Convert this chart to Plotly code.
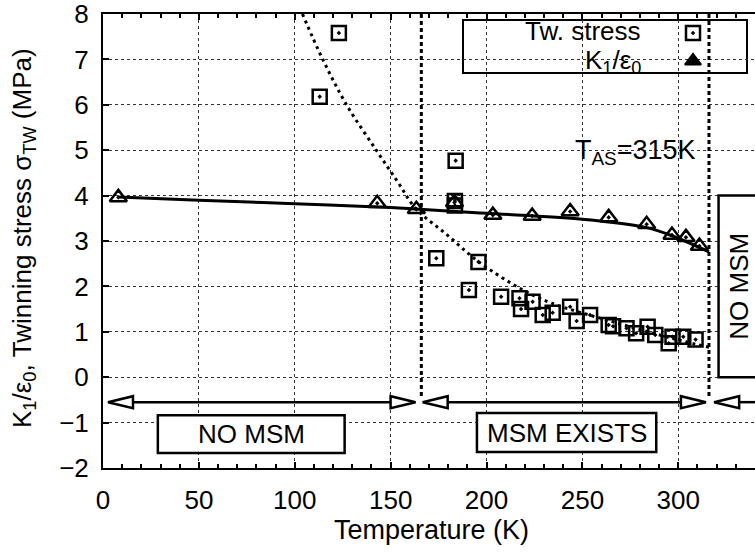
import plotly.graph_objects as go

# ---------------- data ----------------
tw_T = [113, 123, 173.8, 183.5, 183.5, 183.9, 190.8, 195.8, 207.6, 217.2, 218, 224,
        229.3, 234.5, 243.6, 247, 254, 263.7, 266, 273, 278, 284, 288, 295, 297, 302.6, 309]
tw_stress = [6.18, 7.58, 2.62, 3.88, 3.78, 4.77, 1.92, 2.54, 1.77, 1.74, 1.50, 1.66,
             1.37, 1.42, 1.55, 1.24, 1.37, 1.15, 1.12, 1.08, 0.97, 1.11, 0.93, 0.75, 0.89, 0.89, 0.83]

k_T = [8, 143, 163.4, 183.3, 203.3, 223.8, 243.6, 263.7, 283.5, 296.7, 304, 311]
k_val = [3.96, 3.83, 3.70, 3.85, 3.57, 3.55, 3.65, 3.52, 3.37, 3.13, 3.08, 2.89]

fit_T = [8, 50, 100, 150, 165, 200, 250, 283, 297, 316]
fit_val = [3.97, 3.90, 3.82, 3.74, 3.70, 3.61, 3.48, 3.30, 3.11, 2.76]

dot_T = [104, 114.6, 127, 142.5, 153.7, 163, 179, 196, 219, 234, 266, 300, 316]
dot_val = [8.0, 7.0, 6.0, 5.0, 4.3, 3.72, 3.15, 2.54, 1.92, 1.63, 1.22, 0.82, 0.66]

x_ticks = [0, 50, 100, 150, 200, 250, 300]
y_ticks = [-2, -1, 0, 1, 2, 3, 4, 5, 6, 7, 8]

boundary_T = [166, 316]          # dashed vertical lines
boundary_bottom = -0.47
arrow_y = -0.55
arrow_segments = [(2.6, 163, True, True), (166.7, 314.4, True, True), (318.7, 345, True, False)]

# ---------------- layout helpers ----------------
X_RANGE = [0, 340]
Y_RANGE = [-2, 8]
L, R, T, B = 103, 0, 14, 86
W, H = 755, 554
pw, ph = W - L - R, H - T - B
px_per_K = pw / (X_RANGE[1] - X_RANGE[0])
px_per_u = ph / (Y_RANGE[1] - Y_RANGE[0])

def px(xpix):
    return (xpix - L) / pw

def py(ypix):
    return (H - B - ypix) / ph

FONT = "Liberation Sans, Arial, Helvetica, sans-serif"

fig = go.Figure()

# dotted curve
fig.add_trace(go.Scatter(x=dot_T, y=dot_val, mode="lines",
                         line=dict(color="black", width=3, dash="3px,4px", shape="spline"),
                         hoverinfo="skip"))
# solid fit curve
fig.add_trace(go.Scatter(x=fit_T, y=fit_val, mode="lines",
                         line=dict(color="black", width=3, shape="spline"),
                         hoverinfo="skip"))
# twinning stress squares
fig.add_trace(go.Scatter(x=tw_T, y=tw_stress, mode="markers", name="Tw. stress",
                         marker=dict(symbol="square-open-dot", size=14, color="black",
                                     line=dict(width=2.5, color="black"))))
# K1/eps0 triangles
fig.add_trace(go.Scatter(x=k_T, y=k_val, mode="markers", name="K1/e0",
                         marker=dict(symbol="triangle-up-open-dot", size=15, color="black",
                                     line=dict(width=2.5, color="black"))))

shapes = []
# dashed boundary lines
for bT in boundary_T:
    shapes.append(dict(type="line", xref="x", yref="y", x0=bT, x1=bT, y0=Y_RANGE[1], y1=boundary_bottom,
                       line=dict(color="black", width=3, dash="4px,3px")))

# arrows
head_len = 25 / px_per_K
head_half = 6 / px_per_u
for x0, x1, lhead, rhead in arrow_segments:
    a = x0 + (head_len if lhead else 0)
    b = x1 - (head_len if rhead else 0)
    shapes.append(dict(type="line", xref="x", yref="y", x0=a, x1=b, y0=arrow_y, y1=arrow_y,
                       line=dict(color="black", width=2.5)))
    if lhead:
        shapes.append(dict(type="path", xref="x", yref="y",
                           path=f"M {x0} {arrow_y} L {x0 + head_len} {arrow_y + head_half} "
                                f"L {x0 + head_len} {arrow_y - head_half} Z",
                           fillcolor="white", line=dict(color="black", width=2.5)))
    if rhead:
        shapes.append(dict(type="path", xref="x", yref="y",
                           path=f"M {x1} {arrow_y} L {x1 - head_len} {arrow_y + head_half} "
                                f"L {x1 - head_len} {arrow_y - head_half} Z",
                           fillcolor="white", line=dict(color="black", width=2.5)))

# labelled boxes
boxes = [
    dict(x0=28.6, x1=126, y0=-1.67, y1=-0.84, text="NO MSM", angle=0),
    dict(x0=195, x1=288.5, y0=-1.65, y1=-0.79, text="MSM EXISTS", angle=0),
    dict(x0=321, x1=360, y0=0.0, y1=4.0, text="NO MSM", angle=-90),
]
annotations = []
for bx in boxes:
    shapes.append(dict(type="rect", xref="x", yref="y", x0=bx["x0"], x1=bx["x1"], y0=bx["y0"], y1=bx["y1"],
                       fillcolor="white", line=dict(color="black", width=2.5), layer="between"))
    if bx["angle"] == 0:
        cx = (bx["x0"] + bx["x1"]) / 2
    else:
        cx = 331.8
    annotations.append(dict(x=cx, y=(bx["y0"] + bx["y1"]) / 2, xref="x", yref="y",
                            xanchor="center", yanchor="middle",
                            text=bx["text"], showarrow=False, textangle=bx["angle"],
                            font=dict(size=26, family=FONT, color="black")))

# T_AS label
annotations.append(dict(x=277.6, y=4.95, xref="x", yref="y", text="T<sub>AS</sub>=315K",
                        xanchor="center", yanchor="middle",
                        showarrow=False, font=dict(size=27, family=FONT, color="black")))

# custom legend (symbols on the right of the text)
shapes.append(dict(type="rect", xref="paper", yref="paper", x0=px(463), x1=px(747), y0=py(73), y1=py(20),
                   fillcolor="white", line=dict(color="black", width=2), layer="between"))
annotations.append(dict(x=px(643), y=py(31), xref="paper", yref="paper", text="Tw. stress",
                        xanchor="right", yanchor="middle", showarrow=False,
                        font=dict(size=26, family=FONT, color="black")))
annotations.append(dict(x=px(643), y=py(61), xref="paper", yref="paper", text="K<sub>1</sub>/ε<sub>0</sub>",
                        xanchor="right", yanchor="middle", showarrow=False,
                        font=dict(size=26, family=FONT, color="black")))
fig.add_trace(go.Scatter(x=[px(693)], y=[py(33)], xaxis="x2", yaxis="y2", mode="markers",
                         marker=dict(symbol="square-open-dot", size=14, color="black",
                                     line=dict(width=2.5, color="black")), hoverinfo="skip"))
fig.add_trace(go.Scatter(x=[px(693)], y=[py(61)], xaxis="x2", yaxis="y2", mode="markers",
                         marker=dict(symbol="triangle-up-dot", size=14, color="black",
                                     line=dict(width=2, color="black")), hoverinfo="skip"))

# axis titles
annotations.append(dict(x=px(431), y=py(530), xref="paper", yref="paper", text="Temperature (K)",
                        xanchor="center", yanchor="middle",
                        showarrow=False, font=dict(size=27, family=FONT, color="black")))
annotations.append(dict(x=px(24), y=py(238), xref="paper", yref="paper",
                        xanchor="center", yanchor="middle",
                        text="K<sub>1</sub>/ε<sub>0</sub>, Twinning stress σ<sub>TW</sub> (MPa)",
                        showarrow=False, textangle=-90, font=dict(size=26, family=FONT, color="black")))

fig.update_layout(
    width=W, height=H, margin=dict(l=L, r=R, t=T, b=B),
    plot_bgcolor="white", paper_bgcolor="white", showlegend=False,
    font=dict(family=FONT, color="black"),
    shapes=shapes, annotations=annotations,
    xaxis=dict(range=X_RANGE, tickvals=x_ticks, showgrid=True, gridcolor="#333", griddash="dot", gridwidth=1,
               ticks="inside", ticklen=6, tickwidth=1.5, tickcolor="black",
               minor=dict(dtick=10, tick0=0, ticks="inside", ticklen=4, tickcolor="black", showgrid=False),
               showline=True, linecolor="black", linewidth=2, mirror="allticks", zeroline=False,
               tickfont=dict(size=26, family=FONT, color="black"), ticklabelstandoff=8,
               ticklabeloverflow="allow"),
    yaxis=dict(range=Y_RANGE, tickvals=y_ticks, showgrid=True, gridcolor="#333", griddash="dot", gridwidth=1,
               ticks="inside", ticklen=6, tickwidth=1.5, tickcolor="black",
               showline=True, linecolor="black", linewidth=2, zeroline=False,
               tickfont=dict(size=26, family=FONT, color="black"), ticklabelstandoff=7,
               ticklabeloverflow="allow"),
    xaxis2=dict(overlaying="x", range=[0, 1], visible=False),
    yaxis2=dict(overlaying="y", range=[0, 1], visible=False),
)

fig.write_html("out.html")
